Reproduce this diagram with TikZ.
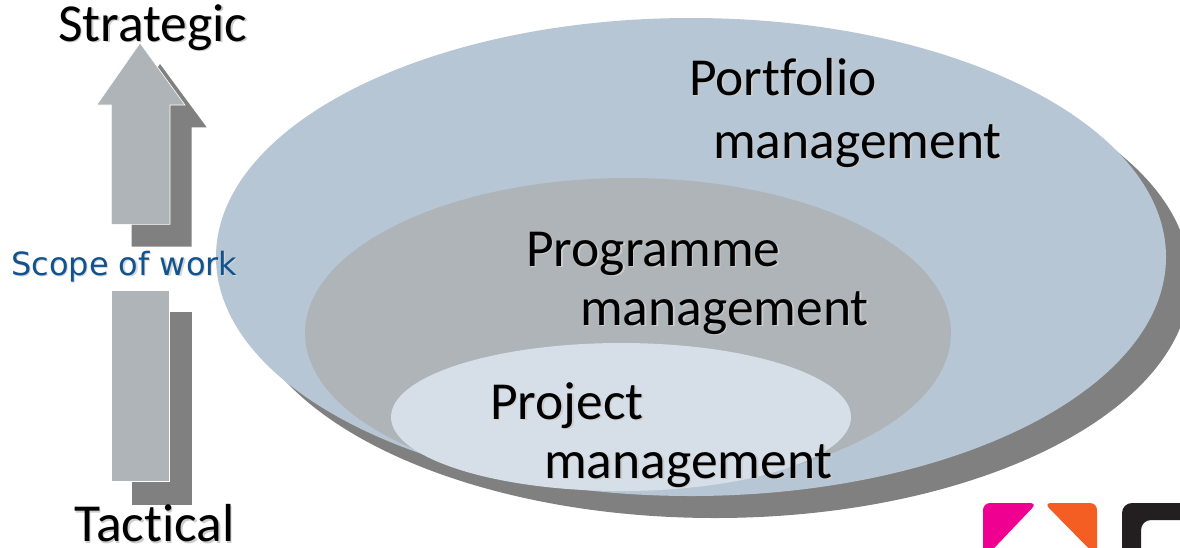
\documentclass[tikz,border=0pt]{standalone}
\usepackage{fontspec}
\setmainfont[Ligatures=CommonOff]{Carlito}
\newfontfamily\scopefont{DejaVu Sans}
\definecolor{outerblue}{HTML}{B7C6D4}
\definecolor{midgrey}{HTML}{AEB4B7}
\definecolor{innerblue}{HTML}{D6DFE8}
\definecolor{shadowgrey}{HTML}{808080}
\definecolor{scopeblue}{HTML}{11538F}
\definecolor{logopink}{HTML}{EF0090}
\definecolor{logoorange}{HTML}{F55E23}
\definecolor{logoblack}{HTML}{231F20}
\tikzset{
  x=1pt,y=-1pt,
  lbl/.style={font=\fontsize{53.5}{54}\selectfont,text=black,inner sep=0pt,anchor=base west},
  lblshadow/.style={font=\fontsize{53.5}{54}\selectfont,text=black!20,inner sep=0pt,anchor=base west},
  scopelbl/.style={font=\scopefont\fontsize{32}{32}\selectfont,inner sep=0pt,anchor=base west},
  arrowbody/.style={fill=midgrey,draw=white,line width=0.6pt},
  arrowshadow/.style={fill=shadowgrey},
}
\begin{document}
\begin{tikzpicture}
\useasboundingbox (0,0) rectangle (1180,547);
\begin{scope}
\clip (0,0) rectangle (1180,547);
\fill[shadowgrey] (715,279) ellipse [x radius=475,y radius=239];
% logo
\fill[logopink,rounded corners=7pt] (983,565) -- (983,503) -- (1037,503) -- (978,565) -- cycle;
\fill[logoorange,rounded corners=7pt] (1097,565) -- (1097,503) -- (1044,503) -- (1105,565) -- cycle;
\fill[logoblack,rounded corners=10pt] (1122,565) -- (1122,503) -- (1195,503) -- (1195,520) -- (1141,520) -- (1141,565) -- cycle;
\end{scope}
% ellipses
\fill[outerblue] (691,257) ellipse [x radius=475,y radius=239];
\fill[midgrey] (628,333) ellipse [x radius=323,y radius=155];
\fill[innerblue] (621,417) ellipse [x radius=230,y radius=74];
% arrows
\fill[arrowshadow] (160,64) -- (206.7,127.3) -- (191.7,127.3) -- (191.7,246.7) -- (131.7,246.7) -- (131.7,127.3) -- (117,127.3) -- cycle;
\fill[arrowshadow] (131.7,312) rectangle (191.7,505);
\draw[arrowbody] (140,43) -- (185,105) -- (170,105) -- (170,224.3) -- (111.3,224.3) -- (111.3,105) -- (96.7,105) -- cycle;
\draw[arrowbody] (111.3,290) rectangle (169.5,481.7);
% text
\foreach \nm/\xx/\yy/\txt in {a/58/41/Strategic,b/74/541.5/Tactical,c/689/95/Portfolio,d/713/158/management,e/526/266/Programme,f/580/325/management,g/490/419/Project,h/544/478/management}{
  \node[lblshadow] (s\nm) at (\xx+1.5,\yy+1.5) {\txt};
  \node[lbl] (\nm) at (\xx,\yy) {\txt};
}
\node[scopelbl,text=black!16] (sscope) at (12.2,276.5) {Scope of work};
\node[scopelbl,text=scopeblue] (scope) at (11,275.3) {Scope of work};
\end{tikzpicture}
\end{document}
